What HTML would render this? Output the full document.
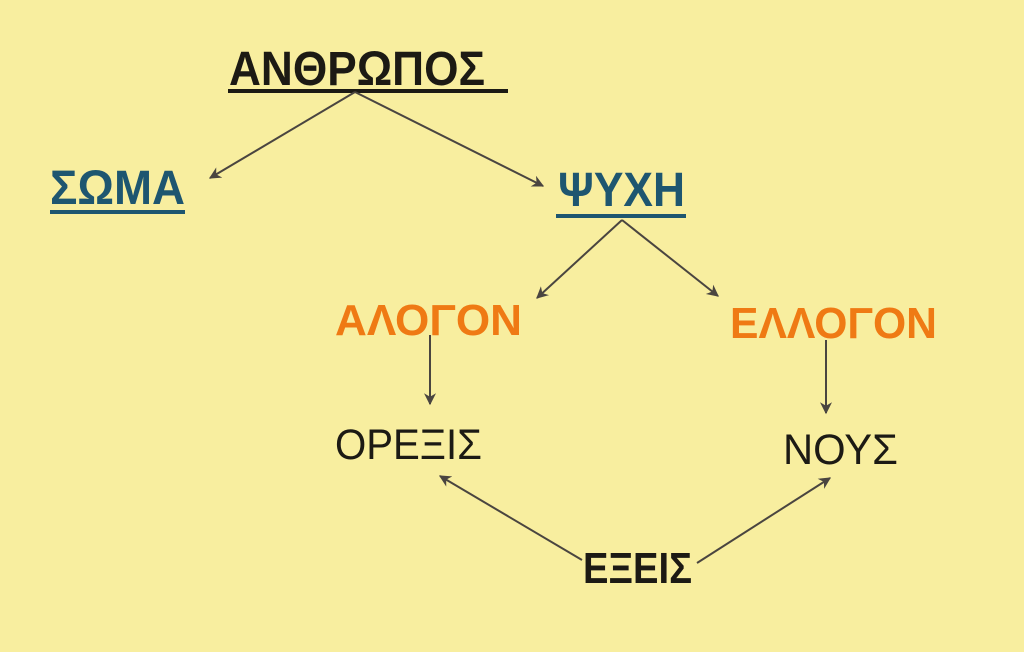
<!DOCTYPE html>
<html><head><meta charset="utf-8"><style>
html,body{margin:0;padding:0;background:#f8ee9f;}
svg{display:block}
text{font-family:"Liberation Sans","DejaVu Sans",sans-serif;}
</style></head><body>
<svg width="1024" height="652" viewBox="0 0 1024 652" xmlns="http://www.w3.org/2000/svg">
<defs>
<marker id="a" viewBox="0 0 10 10" refX="9" refY="5" markerWidth="13" markerHeight="12" orient="auto-start-reverse" markerUnits="userSpaceOnUse">
<path d="M0,0 L10,5 L0,10 L3,5 z" fill="#4a4540"/>
</marker>
</defs>
<rect width="1024" height="652" fill="#f8ee9f"/>
<g font-weight="bold">
<text x="229" y="85" font-size="48" fill="#1c1a14" textLength="256" lengthAdjust="spacingAndGlyphs">ΑΝΘΡΩΠΟΣ</text>
<text x="50" y="204" font-size="48" fill="#1e5670" textLength="135" lengthAdjust="spacingAndGlyphs">ΣΩΜΑ</text>
<text x="558" y="206" font-size="48" fill="#1e5670" textLength="127" lengthAdjust="spacingAndGlyphs">ΨΥΧΗ</text>
<text x="335" y="335" font-size="44" fill="#ef7a14" textLength="187" lengthAdjust="spacingAndGlyphs">ΑΛΟΓΟΝ</text>
<text x="730" y="338" font-size="44" fill="#ef7a14" textLength="207" lengthAdjust="spacingAndGlyphs">ΕΛΛΟΓΟΝ</text>
<text x="583" y="583" font-size="44" fill="#1c1a14" textLength="109" lengthAdjust="spacingAndGlyphs">ΕΞΕΙΣ</text>
</g>
<text x="335" y="459" font-size="43" fill="#1c1a14" textLength="147" lengthAdjust="spacingAndGlyphs">ΟΡΕΞΙΣ</text>
<text x="783" y="464" font-size="43" fill="#1c1a14" textLength="115" lengthAdjust="spacingAndGlyphs">ΝΟΥΣ</text>
<g stroke="#1c1a14" stroke-width="4">
<line x1="228" y1="91" x2="508" y2="91"/>
</g>
<g stroke="#1e5670" stroke-width="4">
<line x1="50" y1="212" x2="185" y2="212"/>
<line x1="556" y1="216" x2="686" y2="216"/>
</g>
<g stroke="#4a4540" stroke-width="2" fill="none" marker-end="url(#a)">
<line x1="355" y1="92" x2="210" y2="178"/>
<line x1="355" y1="92" x2="543" y2="186"/>
<line x1="622" y1="220" x2="537" y2="298"/>
<line x1="622" y1="220" x2="718" y2="296"/>
<line x1="430" y1="335" x2="430" y2="404"/>
<line x1="826" y1="340" x2="826" y2="413"/>
<line x1="582" y1="560" x2="440" y2="476"/>
<line x1="697" y1="563" x2="830" y2="478"/>
</g>
</svg>
</body></html>
